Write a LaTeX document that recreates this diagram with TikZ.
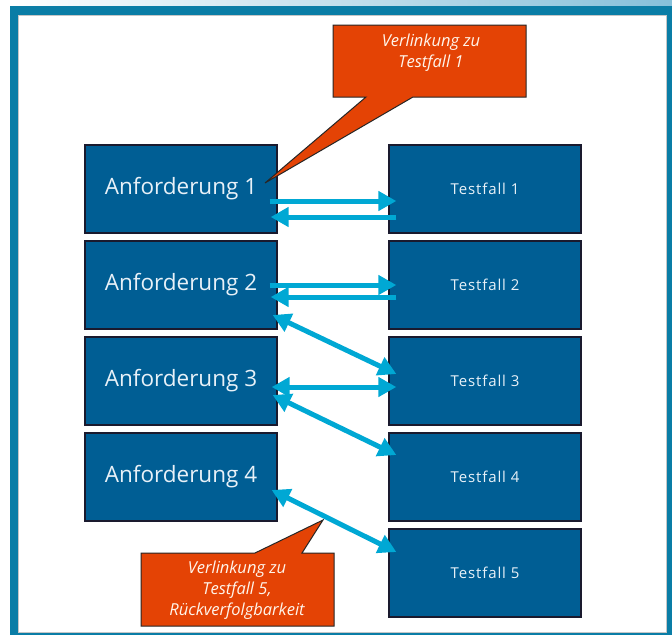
\documentclass[tikz,border=0pt]{standalone}
\usepackage{fontspec}
\setmainfont{Open Sans}
\usetikzlibrary{arrows.meta}
\definecolor{frameteal}{HTML}{0A7DA6}
\definecolor{bandblue}{HTML}{86C0DA}
\definecolor{boxblue}{HTML}{005E94}
\definecolor{boxline}{HTML}{1A1A2E}
\definecolor{arrowcyan}{HTML}{00A8D4}
\definecolor{calloutred}{HTML}{E44305}
\definecolor{boxtext}{HTML}{E8F1F8}
\tikzset{
  reqbox/.style={draw=boxline, line width=1.3pt, fill=boxblue, minimum width=192pt,
    minimum height=88pt, inner sep=0pt, text=boxtext, font=\fontsize{22.5}{26}\selectfont},
  testbox/.style={reqbox, font=\fontsize{15}{18}\selectfont\addfontfeature{LetterSpace=6}},
  linkarrow/.style={draw=arrowcyan, line width=5pt, -{Triangle[length=18pt,width=19pt]}},
  biarrow/.style={draw=arrowcyan, line width=5pt, {Triangle[length=18pt,width=19pt]}-{Triangle[length=18pt,width=19pt]}},
  callout/.style={fill=calloutred, draw=black!85, line width=1pt, line join=miter},
  callouttext/.style={text=white!92!orange, align=center, inner sep=0pt,
    font=\itshape\fontsize{16.5}{21}\selectfont}
}
\begin{document}
\begin{tikzpicture}[x=1pt,y=-1pt]
\useasboundingbox (0,0) rectangle (672,635);
% frame
\shade[left color=white, right color=bandblue] (10,0) rectangle (672,7);
\fill[frameteal] (10,6) rectangle (672,635);
\fill[white, draw=gray!45, line width=0.6pt] (18,15) rectangle (666,632);

% boxes
\node[reqbox] (a1) at (181,189) {Anforderung 1};
\node[reqbox] (a2) at (181,285) {Anforderung 2};
\node[reqbox] (a3) at (181,381) {Anforderung 3};
\node[reqbox] (a4) at (181,477) {Anforderung 4};
\node[testbox] (t1) at (485,189) {Testfall 1};
\node[testbox] (t2) at (485,285) {Testfall 2};
\node[testbox] (t3) at (485,381) {Testfall 3};
\node[testbox] (t4) at (485,477) {Testfall 4};
\node[testbox] (t5) at (485,573) {Testfall 5};

% arrows
\draw[linkarrow] ([xshift=-8pt,yshift=-12pt]a1.east) -- ([xshift=8pt,yshift=-12pt]t1.west);
\draw[linkarrow] ([xshift=8pt,yshift=-28pt]t1.west) -- ([xshift=-7pt,yshift=-28pt]a1.east);
\draw[linkarrow] ([xshift=-8pt]a2.east) -- ([xshift=8pt]t2.west);
\draw[linkarrow] ([xshift=8pt,yshift=-12pt]t2.west) -- ([xshift=-7pt,yshift=-12pt]a2.east);
\draw[biarrow] ([xshift=-5pt,yshift=-30pt]a2.east) -- ([xshift=8pt,yshift=7pt]t3.west);
\draw[biarrow] ([xshift=-6pt,yshift=-6pt]a3.east) -- ([xshift=8pt,yshift=-6pt]t3.west);
\draw[biarrow] ([xshift=-5pt,yshift=-14pt]a3.east) -- ([xshift=8pt,yshift=22pt]t4.west);
\draw[biarrow] ([xshift=-6pt,yshift=-13pt]a4.east) -- ([xshift=8pt,yshift=21pt]t5.west);

% callouts
\draw[callout] (333,25) -- (526,25) -- (526,97) -- (413,97) -- (265,183) -- (366,97) -- (333,97) -- cycle;
\node[callouttext] (c1) at (431,53) {Verlinkung zu\\Testfall 1};
\draw[callout] (141,553) -- (255,553) -- (323,520) -- (302,553) -- (334,553) -- (334,626) -- (141,626) -- cycle;
\node[callouttext] (c2) at (237,590) {Verlinkung zu\\Testfall 5,\\Rückverfolgbarkeit};
\end{tikzpicture}
\end{document}
